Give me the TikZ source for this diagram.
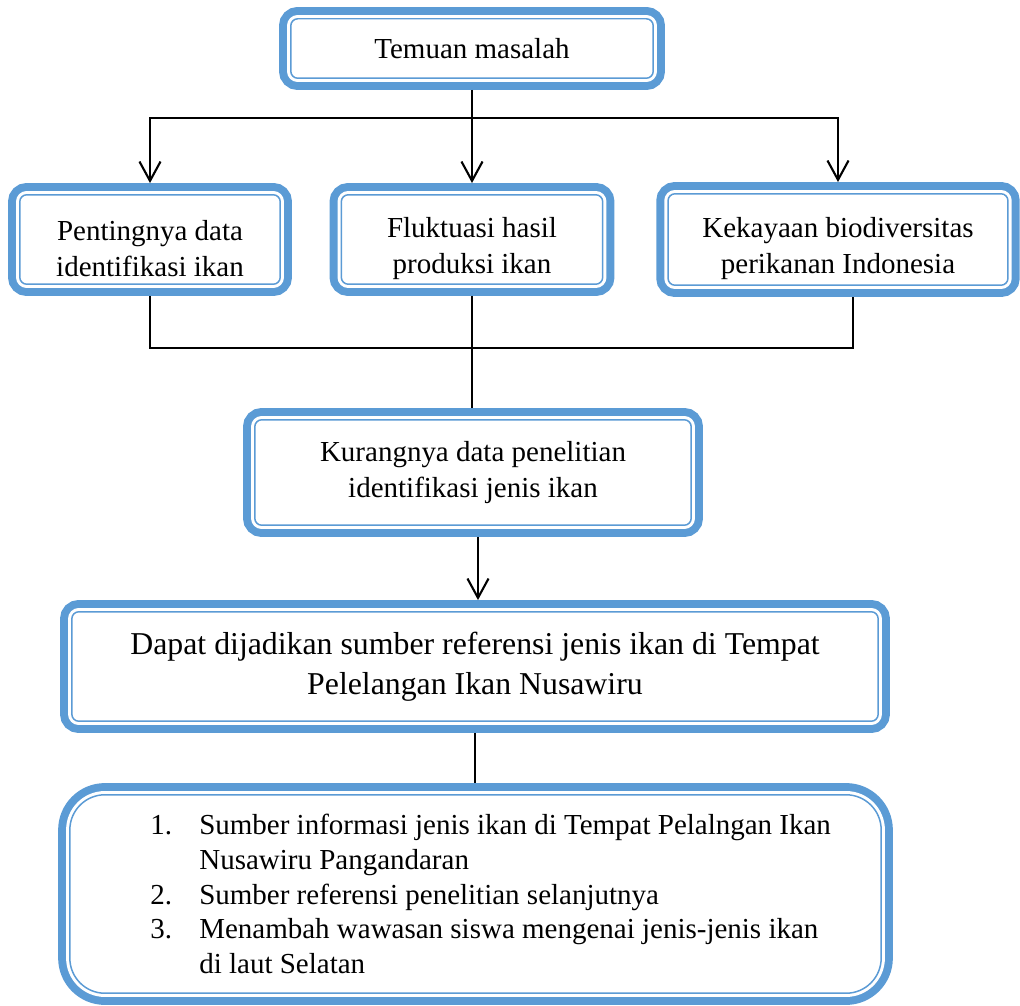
\documentclass[tikz,border=0pt]{standalone}
\usepackage{fontspec}
\setmainfont{Liberation Serif}
\usepackage{xcolor}
\usetikzlibrary{arrows.meta, positioning, calc}

\definecolor{boxblue}{HTML}{5B9BD5}
\newcommand{\numitem}[1]{\makebox[27.8pt][l]{#1}}
\newcommand{\lowstrut}{\rule{0pt}{22pt}}

\begin{document}
\begin{tikzpicture}[x=0.02cm, y=-0.02cm,
      panel/.style={rectangle, rounded corners=4pt, inner sep=0pt, outer sep=6.66pt,
        preaction={draw=boxblue, line width=13.3pt},
        fill=white, draw=white, double=boxblue, line width=1.7pt, double distance=0.85pt,
        align=center, font=\fontsize{16.5}{20.4}\selectfont},
      link/.style={-{Straight Barb[length=11pt, width=12pt]}, line width=1.2pt},
      joint/.style={line width=1.2pt}
    ]
      \useasboundingbox (0,0) rectangle (1020,1006);
      \node[panel, minimum width=7.25cm, minimum height=1.19cm] (temuan) at (472,48.5) {Temuan masalah};
      \node[panel, minimum width=5.21cm, minimum height=1.79cm] (penting) at (150,239.5) {\lowstrut Pentingnya data\\identifikasi ikan};
      \node[panel, minimum width=5.23cm, minimum height=1.79cm] (fluktuasi) at (472,239.5) {\lowstrut Fluktuasi hasil\\produksi ikan};
      \node[panel, minimum width=6.8cm, minimum height=1.83cm] (kekayaan) at (838,239.5) {\lowstrut Kekayaan biodiversitas\\perikanan Indonesia};
      \node[panel, minimum width=8.73cm, minimum height=2.11cm] (kurang) at (473,472.5) {Kurangnya data penelitian\\identifikasi jenis ikan};
      \node[panel, minimum width=16.13cm, minimum height=2.19cm, font=\fontsize{18.1}{22.7}\selectfont] (dapat) at (475,666.5) {Dapat dijadikan sumber referensi jenis ikan di Tempat\\Pelelangan Ikan Nusawiru};
      \node[panel, rounded corners=20pt, minimum width=16.23cm, minimum height=3.97cm] (list) at (475.5,894) {};
      \node[anchor=west, inner sep=0pt, align=left, font=\fontsize{16.5}{19.8}\selectfont] (items) at ($(list.west)+(92,0)$)
        {\numitem{1.}Sumber informasi jenis ikan di Tempat Pelalngan Ikan\\
         \numitem{}Nusawiru Pangandaran\\
         \numitem{2.}Sumber referensi penelitian selanjutnya\\
         \numitem{3.}Menambah wawasan siswa mengenai jenis-jenis ikan\\
         \numitem{}di laut Selatan};
      % cabang atas
      \coordinate (split) at (472,118);
      \draw[joint] (temuan.south) -- (split);
      \draw[link] (split) -| (penting.north);
      \draw[link] (split) -- (fluktuasi.north);
      \draw[link] (split) -| (kekayaan.north);
      % gabungan bawah
      \coordinate (merge) at (472,348);
      \draw[joint] (penting.south) |- (merge) -| ($(kekayaan.south)+(15,0)$);
      \draw[joint] (fluktuasi.south) -- (fluktuasi.south |- kurang.north);
      \draw[link] ($(kurang.south)+(5,0)$) -- ($(kurang.south |- dapat.north)+(5,0)$);
      \draw[joint] (dapat.south) -- (dapat.south |- list.north);
    \end{tikzpicture}
\end{document}
